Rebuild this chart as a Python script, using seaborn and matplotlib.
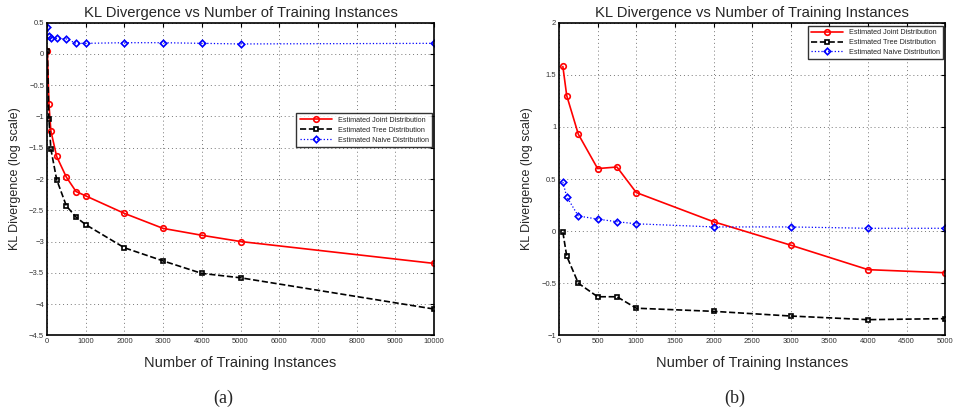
import numpy as np
import pandas as pd
import matplotlib
matplotlib.use("Agg")
import matplotlib.pyplot as plt
import seaborn as sns

# panel (a) values
x_a = [10, 50, 100, 250, 500, 750, 1000, 2000, 3000, 4000, 5000, 10000]
joint_a = [0.04, -0.80, -1.23, -1.64, -1.97, -2.20, -2.27, -2.55, -2.79, -2.90, -3.00, -3.35]
tree_a = [0.04, -1.04, -1.52, -2.01, -2.43, -2.61, -2.73, -3.10, -3.31, -3.51, -3.58, -4.08]
naive_a = [0.43, 0.29, 0.26, 0.25, 0.24, 0.17, 0.17, 0.18, 0.18, 0.17, 0.16, 0.17]

# panel (b) values
x_b = [50, 100, 250, 500, 750, 1000, 2000, 3000, 4000, 5000]
joint_b = [1.58, 1.30, 0.93, 0.60, 0.615, 0.37, 0.09, -0.135, -0.37, -0.40]
tree_b = [-0.01, -0.24, -0.50, -0.63, -0.63, -0.74, -0.77, -0.815, -0.85, -0.84]
naive_b = [0.47, 0.33, 0.145, 0.115, 0.09, 0.07, 0.04, 0.04, 0.027, 0.027]

labels = ["Estimated Joint Distribution", "Estimated Tree Distribution", "Estimated Naive Distribution"]

sns.set_style("white")
plt.rcParams["font.family"] = ["Liberation Sans", "DejaVu Sans"]

fig = plt.figure(figsize=(9.56, 4.18), dpi=100)
ax_a = fig.add_axes([47 / 956, 1 - 335.3 / 418, 387 / 956, 312.6 / 418])
ax_b = fig.add_axes([559 / 956, 1 - 335.3 / 418, 386.3 / 956, 312.6 / 418])

styles = [
    dict(color="red", linestyle="-", marker="o", markersize=4, linewidth=1.2,
         markerfacecolor="none", markeredgecolor="red", markeredgewidth=1.2),
    dict(color="black", linestyle="--", marker="s", markersize=3.2, linewidth=1.2,
         markerfacecolor="none", markeredgecolor="black", markeredgewidth=1.2),
    dict(color="blue", linestyle=":", marker="D", markersize=3.3, linewidth=0.9,
         markerfacecolor="none", markeredgecolor="blue", markeredgewidth=1.2),
]


def draw(ax, x, series, xlim, ylim, xticks, yticks, legend_loc, legend_anchor):
    for ys, lab, st in zip(series, labels, styles):
        df = pd.DataFrame({"n": x, "kl": ys})
        sns.lineplot(data=df, x="n", y="kl", ax=ax, label=lab, **st)
    ax.set_xlim(*xlim)
    ax.set_ylim(*ylim)
    ax.set_xticks(xticks)
    ax.set_yticks(yticks)
    ax.set_xticklabels([str(int(t)) for t in xticks])
    ax.set_yticklabels([("%g" % t).replace("-", "\u2212") for t in yticks])
    ax.grid(True, linestyle=(0, (1, 3)), color="#777777", linewidth=0.7)
    ax.tick_params(direction="in", length=3, labelsize=5.5, top=True, right=True,
                   colors="black", labelcolor="#333333", pad=2)
    for sp in ax.spines.values():
        sp.set_color("black")
        sp.set_linewidth(1.2)
    ax.set_title("KL Divergence vs Number of Training Instances", fontsize=10.6, pad=4)
    ax.set_xlabel("Number of Training Instances", fontsize=10.5, labelpad=8)
    ax.set_ylabel("KL Divergence (log scale)", fontsize=9, labelpad=6)
    leg = ax.legend(loc=legend_loc, bbox_to_anchor=legend_anchor, fontsize=5.2,
                    frameon=True, fancybox=False, edgecolor="black",
                    borderpad=0.45, labelspacing=0.4, handlelength=4.5,
                    borderaxespad=0)
    leg.get_frame().set_linewidth(1.0)


draw(ax_a, x_a, [joint_a, tree_a, naive_a], (0, 10000), (-4.5, 0.5),
     np.arange(0, 10001, 1000), np.arange(-4.5, 0.51, 0.5),
     "upper right", (0.995, 0.71))
draw(ax_b, x_b, [joint_b, tree_b, naive_b], (0, 5000), (-1, 2),
     np.arange(0, 5001, 500), np.arange(-1, 2.01, 0.5),
     "upper right", (0.995, 0.99))

fig.text(223 / 956, 1 - 398 / 418, "(a)", family="Liberation Serif", fontsize=13,
         ha="center", va="center")
fig.text(735 / 956, 1 - 398 / 418, "(b)", family="Liberation Serif", fontsize=13,
         ha="center", va="center")

fig.savefig("out.png", dpi=100)
